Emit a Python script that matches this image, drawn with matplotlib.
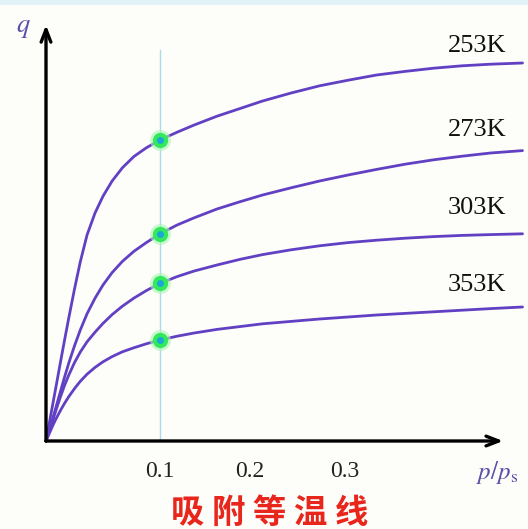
import numpy as np
import matplotlib
matplotlib.use("Agg")
from matplotlib import pyplot as plt
from matplotlib.patches import Rectangle

# relative pressure p/ps (schematic axis) shared by all isotherms
p_rel = [0, .002, .004, .006, .008, .010, .013, .016, .020, .025, .030, .036,
         .043, .050, .058, .067, .077, .088, .1, .115, .13, .15, .17, .19,
         .215, .24, .265, .29, .315, .34, .365, .39, .418]

# adsorbed amount q (relative units)
q_253 = [0, .031, .062, .093, .124, .155, .202, .248, .308, .38, .447, .515,
         .57, .612, .65, .683, .711, .733, .7525, .772, .79, .812, .831, .85,
         .87, .888, .902, .915, .924, .932, .938, .942, .945]
q_273 = [0, .019, .038, .057, .077, .097, .127, .157, .195, .238, .277, .318,
         .357, .39, .421, .449, .474, .496, .518, .54, .558, .58, .598, .615,
         .633, .65, .665, .679, .692, .703, .712, .72, .726]
q_303 = [0, .0175, .035, .0525, .07, .088, .113, .137, .165, .196, .222, .248,
         .272, .294, .316, .337, .357, .376, .394, .411, .425, .44, .454, .466,
         .478, .488, .496, .502, .507, .511, .514, .516, .518]
q_353 = [0, .013, .026, .039, .051, .062, .078, .093, .111, .131, .149, .167,
         .184, .198, .211, .223, .233, .243, .2525, .262, .27, .279, .286, .293,
         .299, .305, .31, .315, .319, .323, .327, .331, .335]

temps = ["253K", "273K", "303K", "353K"]
curves = [q_253, q_273, q_303, q_353]
label_q = [.9875, .7775, .5825, .39]

tick_labels = ["0.1", "0.2", "0.3"]
tick_pos = [.1, .179, .262]
p_mark = 0.1

plt.rcParams["mathtext.fontset"] = "stix"

fig = plt.figure(figsize=(5.28, 5.29), dpi=100, facecolor="#fdfdfa")
ax = fig.add_axes([0, 0, 1, 1])
ax.set_facecolor("#fdfdfa")
ax.set_xlim(-46 / 1140, 482 / 1140)
ax.set_ylim(-88 / 400, 441 / 400)
ax.axis("off")

# light band along the top edge
fig.patches.append(Rectangle((0, 1 - 5 / 529), 1, 5 / 529, transform=fig.transFigure,
                             facecolor="#e2f3f7", edgecolor="none"))

# marker line at p/ps = 0.1
ax.plot([p_mark, p_mark], [0, .9775], color="#aadbe6", lw=1, zorder=1)

for q in curves:
    ax.plot(p_rel, q, color="#6240c4", lw=2, solid_capstyle="round",
            solid_joinstyle="round", zorder=2)
    qm = np.interp(p_mark, p_rel, q)
    ax.plot(p_mark, qm, "o", ms=15, color="#a8f5b0", mec="none", alpha=0.6, zorder=3)
    ax.plot(p_mark, qm, "o", ms=11, color="#33e85a", mec="none", zorder=4)
    ax.plot(p_mark, qm, "o", ms=5, color="#1aa6d6", mec="none", zorder=5)

for t, yq in zip(temps, label_q):
    ax.text(.378, yq, t, fontsize=19, family="Liberation Serif", color="#111111",
            ha="center", va="center")

# axes with open arrow heads
arrow = dict(arrowstyle="->,head_length=0.9,head_width=0.35", lw=2.4, color="black",
             shrinkA=0, shrinkB=0)
ax.annotate("", xy=(.401, 0), xytext=(0, 0), arrowprops=arrow)
ax.annotate("", xy=(0, 1.04), xytext=(0, 0), arrowprops=arrow)

for pos, lab in zip(tick_pos, tick_labels):
    ax.text(pos, -.076, lab, fontsize=17, family="Liberation Serif", color="#222222",
            ha="center", va="center")

ax.text(-.02, 1.035, r"$q$", fontsize=19, color="#5a4fa8", ha="center", va="center")
ax.text(.3956, -.0775, r"$p/p_\mathrm{s}$", fontsize=18, color="#5a4fa8", ha="center", va="center")

ax.text(.1965, -.18, "吸 附 等 温 线", fontsize=24, family=["Noto Sans CJK SC", "DejaVu Sans"],
        fontweight="heavy", color="#e8261c", ha="center", va="center")

fig.savefig("out.png", dpi=100, facecolor=fig.get_facecolor())
